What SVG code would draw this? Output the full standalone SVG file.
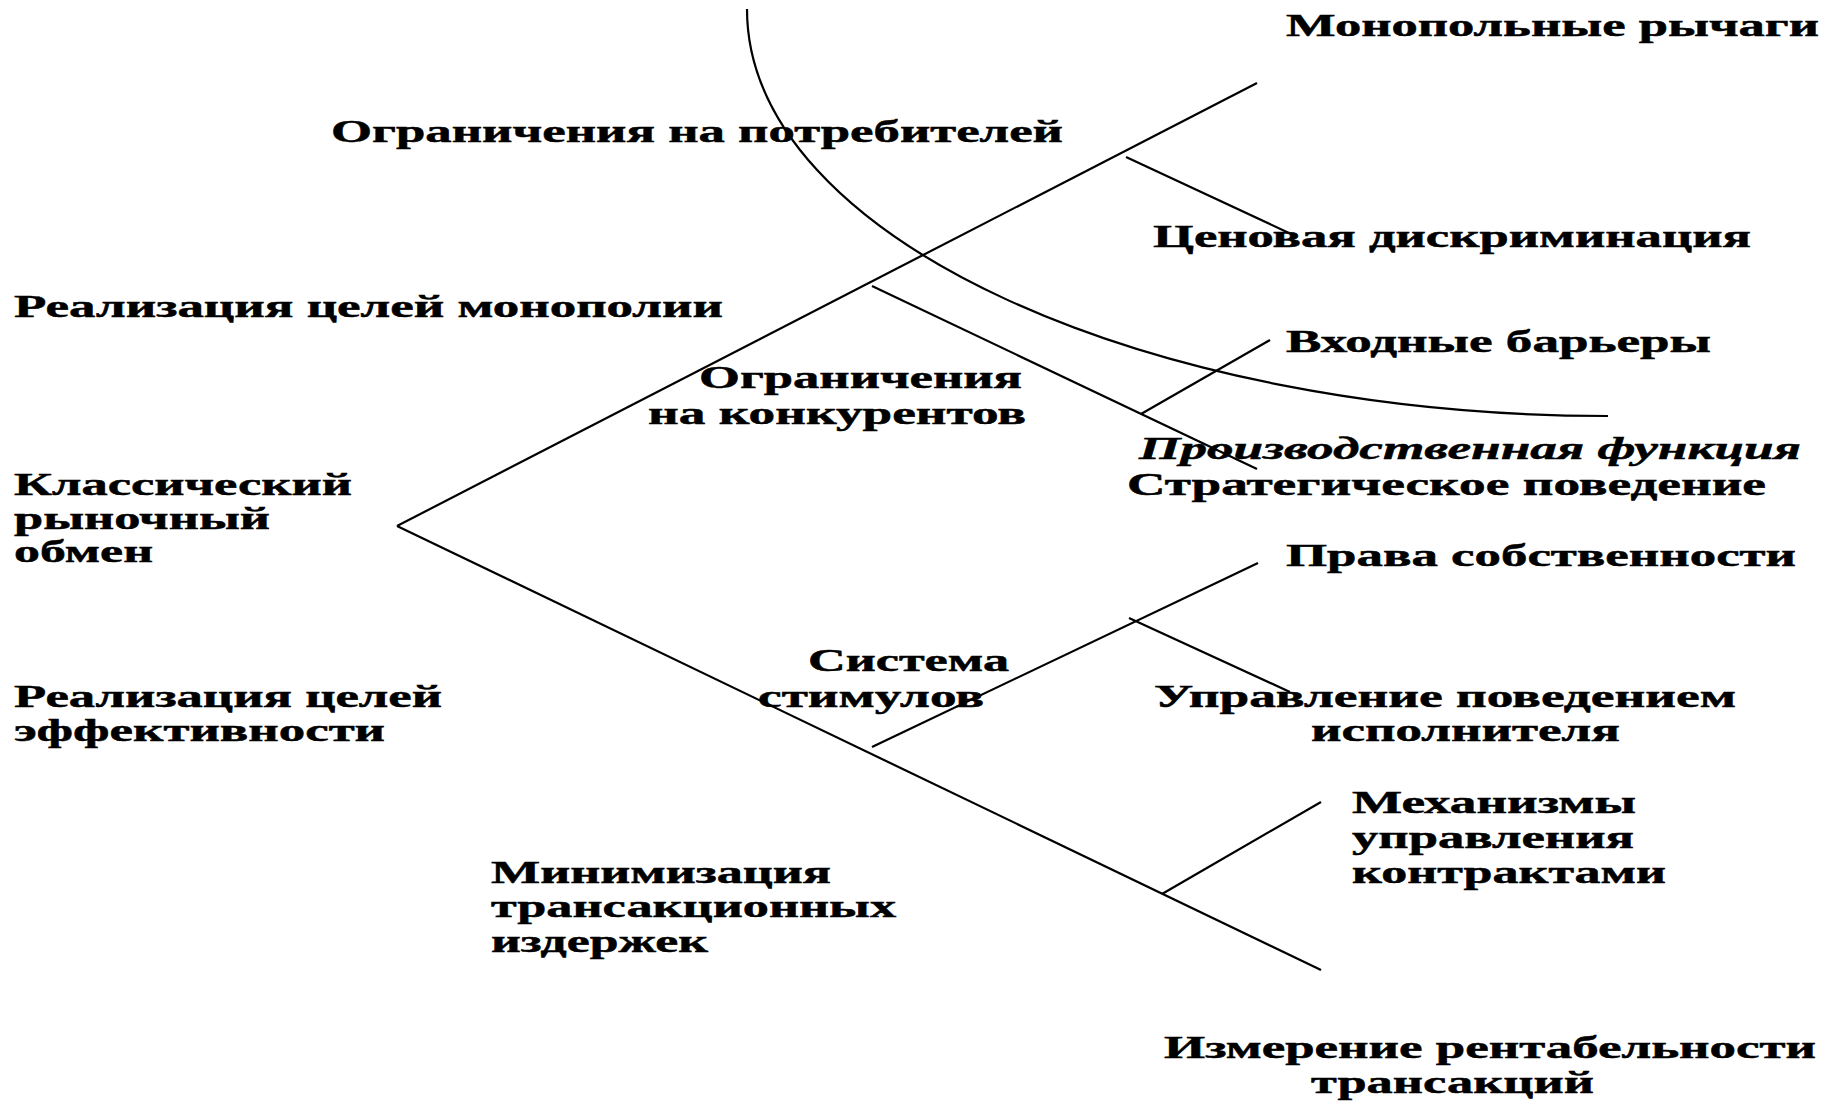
<svg xmlns="http://www.w3.org/2000/svg" width="1837" height="1101" viewBox="0 0 1837 1101">
<style>
text{font-family:"Liberation Serif","Times New Roman",serif;font-weight:bold;font-size:32px;fill:#000;stroke:#000;stroke-width:0.5}
.it{font-style:italic}
.ln{stroke:#000;stroke-width:2.2;fill:none}
</style>
<rect width="1837" height="1101" fill="#fff"/>
<g id="connectors">
<path class="ln" d="M747,9 C747,240 1150,416 1608,416"/>
<line class="ln" x1="1257" y1="83" x2="397" y2="526"/>
<line class="ln" x1="397" y1="526" x2="1321" y2="970"/>
<line class="ln" x1="1126" y1="157" x2="1289" y2="233"/>
<line class="ln" x1="872" y1="286" x2="1257" y2="469"/>
<line class="ln" x1="1141" y1="414" x2="1270" y2="340"/>
<line class="ln" x1="872" y1="747" x2="1258" y2="563"/>
<line class="ln" x1="1129" y1="618" x2="1290" y2="692"/>
<line class="ln" x1="1162" y1="894" x2="1321" y2="802"/>
</g>
<g id="n-monopolnye"><text x="1286" y="36" textLength="533" lengthAdjust="spacingAndGlyphs">Монопольные рычаги</text></g>
<g id="n-potrebiteli"><text x="331" y="142" textLength="732" lengthAdjust="spacingAndGlyphs">Ограничения на потребителей</text></g>
<g id="n-cenovaya"><text x="1153" y="247" textLength="598" lengthAdjust="spacingAndGlyphs">Ценовая дискриминация</text></g>
<g id="n-monopolii"><text x="14" y="317" textLength="709" lengthAdjust="spacingAndGlyphs">Реализация целей монополии</text></g>
<g id="n-vhodnye"><text x="1286" y="352" textLength="425" lengthAdjust="spacingAndGlyphs">Входные барьеры</text></g>
<g id="n-konkurenty">
<text x="699" y="388" textLength="323" lengthAdjust="spacingAndGlyphs">Ограничения</text>
<text x="648" y="424" textLength="378" lengthAdjust="spacingAndGlyphs">на конкурентов</text>
</g>
<g id="n-proizv"><text class="it" x="1139" y="459" textLength="662" lengthAdjust="spacingAndGlyphs">Производственная функция</text></g>
<g id="n-strateg"><text x="1127" y="495" textLength="639" lengthAdjust="spacingAndGlyphs">Стратегическое поведение</text></g>
<g id="n-klass">
<text x="14" y="495" textLength="338" lengthAdjust="spacingAndGlyphs">Классический</text>
<text x="14" y="529" textLength="256" lengthAdjust="spacingAndGlyphs">рыночный</text>
<text x="14" y="562" textLength="139" lengthAdjust="spacingAndGlyphs">обмен</text>
</g>
<g id="n-prava"><text x="1286" y="566" textLength="510" lengthAdjust="spacingAndGlyphs">Права собственности</text></g>
<g id="n-sistema">
<text x="808" y="671" textLength="201" lengthAdjust="spacingAndGlyphs">Система</text>
<text x="758" y="707" textLength="226" lengthAdjust="spacingAndGlyphs">стимулов</text>
</g>
<g id="n-effekt">
<text x="14" y="707" textLength="428" lengthAdjust="spacingAndGlyphs">Реализация целей</text>
<text x="14" y="741" textLength="371" lengthAdjust="spacingAndGlyphs">эффективности</text>
</g>
<g id="n-upravlenie">
<text x="1154" y="707" textLength="582" lengthAdjust="spacingAndGlyphs">Управление поведением</text>
<text x="1311" y="741" textLength="309" lengthAdjust="spacingAndGlyphs">исполнителя</text>
</g>
<g id="n-mehanizmy">
<text x="1352" y="813" textLength="284" lengthAdjust="spacingAndGlyphs">Механизмы</text>
<text x="1352" y="848" textLength="282" lengthAdjust="spacingAndGlyphs">управления</text>
<text x="1352" y="883" textLength="314" lengthAdjust="spacingAndGlyphs">контрактами</text>
</g>
<g id="n-minimiz">
<text x="491" y="883" textLength="340" lengthAdjust="spacingAndGlyphs">Минимизация</text>
<text x="491" y="917" textLength="405" lengthAdjust="spacingAndGlyphs">трансакционных</text>
<text x="491" y="952" textLength="217" lengthAdjust="spacingAndGlyphs">издержек</text>
</g>
<g id="n-izmerenie">
<text x="1164" y="1058" textLength="652" lengthAdjust="spacingAndGlyphs">Измерение рентабельности</text>
<text x="1311" y="1093" textLength="283" lengthAdjust="spacingAndGlyphs">трансакций</text>
</g>
</svg>
